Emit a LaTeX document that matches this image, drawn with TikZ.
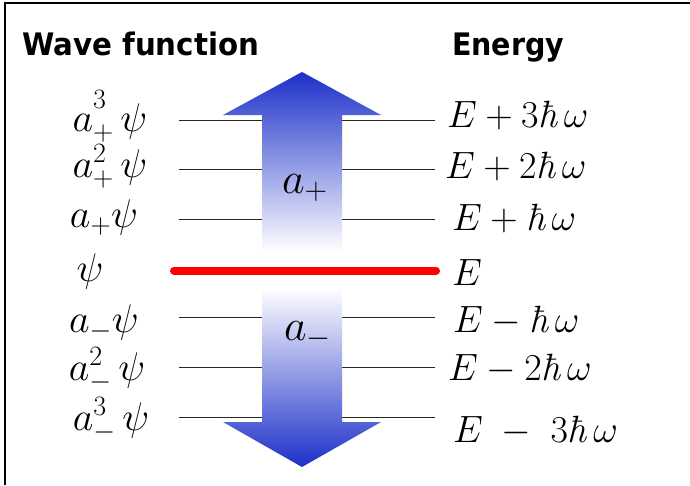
\RequirePackage{fix-cm}
\documentclass[tikz,border=0pt]{standalone}
\usepackage{fontspec}
\newfontfamily\hdrfont{DejaVu Sans}
\definecolor{arrowblue}{HTML}{1C30C8}
\newcommand{\hdrtext}[2]{\scalebox{#1}[1]{#2}}
\newcommand{\hbarglyph}{\mbox{\itshape ħ}}
\begin{document}
\begin{tikzpicture}[x=1pt,y=-1pt,
  level/.style={draw=black!85, line width=1.3pt},
  ground/.style={draw=red, line width=8pt, line cap=round},
  hdr/.style={font={\hdrfont\bfseries\fontsize{31}{36}\selectfont}, anchor=base west, inner sep=0pt},
  wf/.style={font={\fontsize{40}{44}\selectfont}, anchor=base, inner sep=0pt},
  en/.style={font={\fontsize{38}{42}\selectfont}, anchor=base west, inner sep=0pt},
  op/.style={font={\fontsize{44}{48}\selectfont}, anchor=base west, inner sep=0pt},
]
\useasboundingbox (0,0) rectangle (690,485);
\fill[white] (0,0) rectangle (690,485);
\draw[line width=2.5pt] (690,3) -- (5,3) -- (5,485);

% headers
\node[hdr] (hwave) at (22,55) {\hdrtext{0.945}{Wave function}};
\node[hdr] (hen) at (452,55) {\hdrtext{0.92}{Energy}};

% level lines
\foreach \i/\y in {1/120.7,2/169.3,3/219.3,5/317.7,6/367.7,7/417.3} {
  \coordinate (L\i) at (179,\y);
  \coordinate (R\i) at (435,\y);
  \draw[level] (L\i) -- (R\i);
}
\coordinate (L4) at (174,270.7);
\coordinate (R4) at (436,270.7);

% arrows
\shade[top color=arrowblue, bottom color=white]
  (302,72) -- (381,115) -- (342,115) -- (342,252) -- (262,252) -- (262,115) -- (223,115) -- cycle;
\shade[top color=white, bottom color=arrowblue]
  (262,288) -- (342,288) -- (342,422) -- (381,422) -- (302,467) -- (223,422) -- (262,422) -- cycle;

\draw[ground] (L4) -- (R4);

\node[op] (aplus) at (282,193) {$a_+$};
\node[op] (aminus) at (284,340) {$a_-$};

% wave function labels
\node[wf] (w1) at (110,131) {$a_+^{\raisebox{8pt}{$\scriptstyle 3$}}\,\psi$};
\node[wf] (w2) at (110,177) {$a_+^2\,\psi$};
\node[wf] (w3) at (104,227) {$a_+\psi$};
\node[wf] (w4) at (90,281) {$\psi$};
\node[wf] (w5) at (104,332) {$a_-\psi$};
\node[wf] (w6) at (107,380) {$a_-^2\,\psi$};
\node[wf] (w7) at (111,430) {$a_-^3\,\psi$};

% energy labels
\node[en] (e1) at (447,127) {$E+3\hbarglyph\,\omega$};
\node[en] (e2) at (445,178) {$E+2\hbarglyph\,\omega$};
\node[en] (e3) at (452,230) {$E+\hbarglyph\,\omega$};
\node[en] (e4) at (452,285) {$E$};
\node[en] (e5) at (453,332) {$E-\hbarglyph\,\omega$};
\node[en] (e6) at (448,380) {$E-2\hbarglyph\,\omega$};
\node[en] (e7) at (453,442) {$E\;-\;3\hbarglyph\,\omega$};
\end{tikzpicture}
\end{document}
